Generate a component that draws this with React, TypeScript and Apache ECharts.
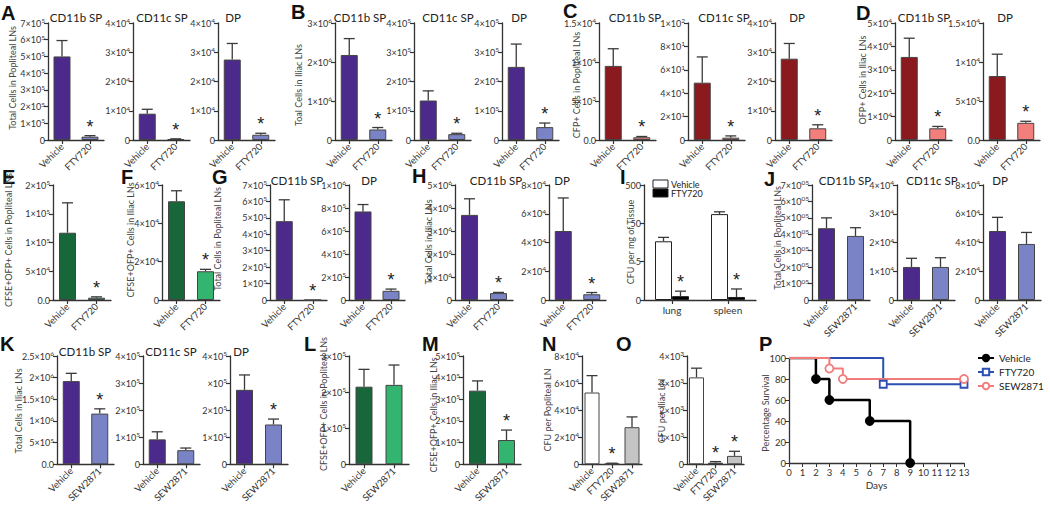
import React, { useEffect, useRef } from 'react';
import * as echarts from 'echarts';

// ---------- categories ----------
const CATS_FTY = ['Vehicle', 'FTY720'];
const CATS_SEW = ['Vehicle', 'SEW2871'];
const CATS_I = ['lung', 'spleen'];
const CATS_CFU = ['Vehicle', 'FTY720', 'SEW2871'];

// ---------- values (mean) and error-bar tops ----------
const A1_MEAN = [5.0e5, 2.0e4]; const A1_ERR = [5.95e5, 2.6e4];
const A2_MEAN = [9.0e3, 3.0e2]; const A2_ERR = [1.05e4, 4.0e2];
const A3_MEAN = [2.75e4, 1.8e3]; const A3_ERR = [3.3e4, 2.3e3];
const B1_MEAN = [2.18e6, 2.7e5]; const B1_ERR = [2.6e6, 3.2e5];
const B2_MEAN = [1.35e5, 2.0e4]; const B2_ERR = [1.68e5, 2.3e4];
const B3_MEAN = [2.5e5, 4.4e4]; const B3_ERR = [3.28e5, 5.8e4];
const C1_MEAN = [9.5e3, 3.5e2]; const C1_ERR = [1.17e4, 4.5e2];
const C2_MEAN = [49, 2]; const C2_ERR = [71, 3.5];
const C3_MEAN = [2.78e4, 4.0e3]; const C3_ERR = [3.3e4, 5.2e3];
const D1_MEAN = [3.55e4, 5.0e3]; const D1_ERR = [4.35e4, 5.8e3];
const D2_MEAN = [8.2e3, 2.2e3]; const D2_ERR = [1.1e4, 2.4e3];
const E_MEAN = [1.17e5, 4.0e3]; const E_ERR = [1.69e5, 5.5e3];
const F_MEAN = [5.15e4, 1.5e4]; const F_ERR = [5.7e4, 1.6e4];
const G1_MEAN = [4.8e5, 0]; const G1_ERR = [6.1e5, -1];
const G2_MEAN = [7.7e5, 8.0e4]; const G2_ERR = [8.3e5, 9.5e4];
const H1_MEAN = [3.7e6, 3.0e5]; const H1_ERR = [4.4e6, 3.3e5];
const H2_MEAN = [4.8e4, 4.0e3]; const H2_ERR = [7.1e4, 5.2e3];
const I_VEH_MEAN = [17, 87]; const I_VEH_ERR = [21.5, 100];
const I_FTY_MEAN = [0.63, 0.6]; const I_FTY_ERR = [0.85, 0.97];
const J1_MEAN = [4.37e5, 3.9e5]; const J1_ERR = [5.0e5, 4.4e5];
const J2_MEAN = [1.15e4, 1.15e4]; const J2_ERR = [1.45e4, 1.47e4];
const J3_MEAN = [4.8e4, 3.9e4]; const J3_ERR = [5.75e4, 4.7e4];
const K1_MEAN = [1.92e6, 1.17e6]; const K1_ERR = [2.1e6, 1.28e6];
const K2_MEAN = [9.2e4, 5.2e4]; const K2_ERR = [1.2e5, 6.0e4];
const K3_MEAN = [2.75e5, 1.47e5]; const K3_ERR = [3.3e5, 1.67e5];
const L_MEAN = [2.15e5, 2.2e5]; const L_ERR = [2.63e5, 2.75e5];
const M_MEAN = [3.4e5, 1.12e5]; const M_ERR = [3.85e5, 1.58e5];
const N_MEAN = [5.3e4, 5.0e2, 2.74e4]; const N_ERR = [6.55e4, 8.0e2, 3.5e4];
const O_MEAN = [3.21e3, 60, 3.1e2]; const O_ERR = [3.55e3, 100, 4.8e2];

// significance stars (1 = asterisk)
const STAR_SECOND = [0, 1];
const STAR_NONE = [0, 0];
const STAR_N = [0, 1, 0];
const STAR_O = [0, 1, 1];
const STAR_I_FTY = [1, 1];

// survival (panel P)
const DAYS_VEH = [0, 2, 3, 6, 9]; const SURV_VEH = [100, 80, 60, 40, 0];
const DAYS_FTY = [0, 7, 13]; const SURV_FTY = [100, 75, 75];
const DAYS_SEW = [0, 3, 4, 13]; const SURV_SEW = [100, 90, 80, 80];
const SURV_NAMES = ['Vehicle', 'FTY720', 'SEW2871'];

// ---------- tick labels (^ marks the exponent) ----------
const T_7E5 = ['0', '1×10^5', '2×10^5', '3×10^5', '4×10^5', '5×10^5', '6×10^5', '7×10^5'];
const T_4E4 = ['0', '1×10^4', '2×10^4', '3×10^4', '4×10^4'];
const T_3E6 = ['0', '1×10^6', '2×10^6', '3×10^6'];
const T_4E5 = ['0', '1×10^5', '2×10^5', '3×10^5', '4×10^5'];
const T_15E4 = ['0.0', '5×10^3', '1×10^4', '1.5×10^4'];
const T_1E2 = ['0', '2×10^1', '4×10^1', '6×10^1', '8×10^1', '1×10^2'];
const T_5E4 = ['0', '1×10^4', '2×10^4', '3×10^4', '4×10^4', '5×10^4'];
const T_E = ['0.0', '5×10^4', '1×10^5', '1×10^5', '2×10^5'];
const T_6E4 = ['0', '2×10^4', '4×10^4', '6×10^4'];
const T_1E6 = ['0', '2×10^5', '4×10^5', '6×10^5', '8×10^5', '1×10^6'];
const T_5E6 = ['0', '1×10^6', '2×10^6', '3×10^6', '4×10^6', '5×10^6'];
const T_8E4 = ['0', '2×10^4', '4×10^4', '6×10^4', '8×10^4'];
const T_I = ['0', '5', '50', '500'];
const T_J1 = ['0', '1×10^05', '2×10^05', '3×10^05', '4×10^05', '5×10^05', '6×10^05', '7×10^05'];
const T_K1 = ['0.0', '5×10^5', '1×10^6', '1.5×10^6', '2×10^6', '2.5×10^6'];
const T_K3 = ['0', '1×10^5', '2×10^5', '×10^5', '4×10^5'];
const T_3E5 = ['0', '1×10^5', '2×10^5', '3×10^5'];
const T_5E5 = ['0', '1×10^5', '2×10^5', '3×10^5', '4×10^5', '5×10^5'];
const T_4E3 = ['0', '1×10^3', '2×10^3', '3×10^3', '4×10^3'];
const T_SURV_X = ['0', '1', '2', '3', '4', '5', '6', '7', '8', '9', '10', '11', '12', '13'];
const T_SURV_Y = ['0', '20', '40', '60', '80', '100'];

// ---------- styles ----------
const PURPLE = ['#4b2a8c', '#7a83c6'];
const RED = ['#8b1a1f', '#f27f7b'];
const GREEN = ['#18673a', '#34b56f'];
const CFU_COL = ['#ffffff', '#000000', '#c4c4c4'];
const AX = '#333333';
const FONT = "Lato, 'Open Sans', 'DejaVu Sans', sans-serif";
const LFONT = "'Liberation Sans', Arial, sans-serif";

type Sub = {
  left: number; top: number; width: number; height: number;
  cats: string[]; mean: number[]; err: number[]; stars: number[];
  colors: string[]; ticks: string[]; interval: number; bw?: number;
};

const R1 = 23, H1 = 117, R2 = 185, H2 = 115, R3 = 356, H3 = 116;

const SUBS: Sub[] = [
  { left: 48, top: R1, width: 56, height: H1, cats: CATS_FTY, mean: A1_MEAN, err: A1_ERR, stars: STAR_SECOND, colors: PURPLE, ticks: T_7E5, interval: 1e5 },
  { left: 133, top: R1, width: 57, height: H1, cats: CATS_FTY, mean: A2_MEAN, err: A2_ERR, stars: STAR_SECOND, colors: PURPLE, ticks: T_4E4, interval: 1e4 },
  { left: 218, top: R1, width: 57, height: H1, cats: CATS_FTY, mean: A3_MEAN, err: A3_ERR, stars: STAR_SECOND, colors: PURPLE, ticks: T_4E4, interval: 1e4 },
  { left: 335, top: R1, width: 57, height: H1, cats: CATS_FTY, mean: B1_MEAN, err: B1_ERR, stars: STAR_SECOND, colors: PURPLE, ticks: T_3E6, interval: 1e6 },
  { left: 414, top: R1, width: 57, height: H1, cats: CATS_FTY, mean: B2_MEAN, err: B2_ERR, stars: STAR_SECOND, colors: PURPLE, ticks: T_4E5, interval: 1e5 },
  { left: 502, top: R1, width: 57, height: H1, cats: CATS_FTY, mean: B3_MEAN, err: B3_ERR, stars: STAR_SECOND, colors: PURPLE, ticks: T_4E5, interval: 1e5 },
  { left: 599, top: R1, width: 57, height: H1, cats: CATS_FTY, mean: C1_MEAN, err: C1_ERR, stars: STAR_SECOND, colors: RED, ticks: T_15E4, interval: 5e3 },
  { left: 688, top: R1, width: 57, height: H1, cats: CATS_FTY, mean: C2_MEAN, err: C2_ERR, stars: STAR_SECOND, colors: RED, ticks: T_1E2, interval: 20 },
  { left: 775, top: R1, width: 57, height: H1, cats: CATS_FTY, mean: C3_MEAN, err: C3_ERR, stars: STAR_SECOND, colors: RED, ticks: T_4E4, interval: 1e4 },
  { left: 895, top: R1, width: 57, height: H1, cats: CATS_FTY, mean: D1_MEAN, err: D1_ERR, stars: STAR_SECOND, colors: RED, ticks: T_5E4, interval: 1e4 },
  { left: 983, top: R1, width: 57, height: H1, cats: CATS_FTY, mean: D2_MEAN, err: D2_ERR, stars: STAR_SECOND, colors: RED, ticks: T_15E4, interval: 5e3 },

  { left: 53, top: R2, width: 58, height: H2, cats: CATS_FTY, mean: E_MEAN, err: E_ERR, stars: STAR_SECOND, colors: GREEN, ticks: T_E, interval: 5e4 },
  { left: 162, top: R2, width: 58, height: H2, cats: CATS_FTY, mean: F_MEAN, err: F_ERR, stars: STAR_SECOND, colors: GREEN, ticks: T_6E4, interval: 2e4 },
  { left: 270, top: R2, width: 57, height: H2, cats: CATS_FTY, mean: G1_MEAN, err: G1_ERR, stars: STAR_SECOND, colors: PURPLE, ticks: T_7E5, interval: 1e5 },
  { left: 349, top: R2, width: 56, height: H2, cats: CATS_FTY, mean: G2_MEAN, err: G2_ERR, stars: STAR_SECOND, colors: PURPLE, ticks: T_1E6, interval: 2e5 },
  { left: 455, top: R2, width: 58, height: H2, cats: CATS_FTY, mean: H1_MEAN, err: H1_ERR, stars: STAR_SECOND, colors: PURPLE, ticks: T_5E6, interval: 1e6 },
  { left: 549, top: R2, width: 57, height: H2, cats: CATS_FTY, mean: H2_MEAN, err: H2_ERR, stars: STAR_SECOND, colors: PURPLE, ticks: T_8E4, interval: 2e4 },
  { left: 812, top: R2, width: 58, height: H2, cats: CATS_SEW, mean: J1_MEAN, err: J1_ERR, stars: STAR_NONE, colors: PURPLE, ticks: T_J1, interval: 1e5 },
  { left: 897, top: R2, width: 58, height: H2, cats: CATS_SEW, mean: J2_MEAN, err: J2_ERR, stars: STAR_NONE, colors: PURPLE, ticks: T_4E4, interval: 1e4 },
  { left: 983, top: R2, width: 58, height: H2, cats: CATS_SEW, mean: J3_MEAN, err: J3_ERR, stars: STAR_NONE, colors: PURPLE, ticks: T_8E4, interval: 2e4 },

  { left: 57, top: R3, width: 57, height: H3, cats: CATS_SEW, mean: K1_MEAN, err: K1_ERR, stars: STAR_SECOND, colors: PURPLE, ticks: T_K1, interval: 5e5 },
  { left: 143, top: R3, width: 57, height: H3, cats: CATS_SEW, mean: K2_MEAN, err: K2_ERR, stars: STAR_NONE, colors: PURPLE, ticks: T_4E5, interval: 1e5 },
  { left: 230, top: R3, width: 58, height: H3, cats: CATS_SEW, mean: K3_MEAN, err: K3_ERR, stars: STAR_SECOND, colors: PURPLE, ticks: T_K3, interval: 1e5 },
  { left: 349, top: R3, width: 60, height: H3, cats: CATS_SEW, mean: L_MEAN, err: L_ERR, stars: STAR_NONE, colors: GREEN, ticks: T_3E5, interval: 1e5 },
  { left: 463, top: R3, width: 58, height: H3, cats: CATS_SEW, mean: M_MEAN, err: M_ERR, stars: STAR_SECOND, colors: GREEN, ticks: T_5E5, interval: 1e5 },
  { left: 582, top: R3, width: 60, height: H3, cats: CATS_CFU, mean: N_MEAN, err: N_ERR, stars: STAR_N, colors: CFU_COL, ticks: T_8E4, interval: 2e4, bw: 15 },
  { left: 687, top: R3, width: 57, height: H3, cats: CATS_CFU, mean: O_MEAN, err: O_ERR, stars: STAR_O, colors: CFU_COL, ticks: T_4E3, interval: 1e3, bw: 15 },
];

const I_GRID = { left: 644, top: R2, width: 112, height: H2 };
const P_GRID = { left: 789, top: 358, width: 175, height: 105 };

const logI = (v: number) => Math.log10(v / 0.5);

// panel letters: text, left x, glyph centre y
const LETTERS: [string, number, number][] = [
  ['A', 1, 12.5], ['B', 291, 12], ['C', 563, 11], ['D', 856, 12.5],
  ['E', 2, 176.5], ['F', 121, 176.5], ['G', 212, 177], ['H', 412, 176], ['I', 620, 176.5], ['J', 764, 179],
  ['K', 0, 344], ['L', 304, 344], ['M', 422, 343.5], ['N', 542, 344], ['O', 616, 344], ['P', 759, 344],
];

const TITLES: [string, number, number][] = [
  ['CD11b SP', 76, 17], ['CD11c SP', 162, 17], ['DP', 233, 17],
  ['CD11b SP', 360, 17], ['CD11c SP', 448, 17], ['DP', 519, 17],
  ['CD11b SP', 635, 17], ['CD11c SP', 724, 17], ['DP', 797, 17],
  ['CD11b SP', 924, 17], ['DP', 1005, 17],
  ['CD11b SP', 297, 180], ['DP', 369, 180], ['CD11b SP', 496, 180], ['DP', 562, 180],
  ['CD11b SP', 845, 180], ['CD11c SP', 932, 180], ['DP', 1000, 180],
  ['CD11b SP', 85, 351], ['CD11c SP', 171, 351], ['DP', 241, 351],
];

const YTITLES: [string, number, number][] = [
  ['Total Cells in Popliteal LNs', 12, 78],
  ['Toal Cells in Iliac LNs', 298, 85],
  ['CFP+ Cells in Popliteal LNs', 576, 85],
  ['OFP+ Cells in Iliac LNs', 862, 80],
  ['CFSE+OFP+ Cells in Popliteal LNs', 8, 240],
  ['CFSE+OFP+ Cells in Iliac LNs', 130, 240],
  ['Total Cells in Popliteal LNs', 217, 239],
  ['Total Cells in Iliac LNs', 428, 242],
  ['CFU per mg of Tissue', 630, 242],
  ['Total Cells in Popliteal LNs', 777, 238],
  ['Total Cells in Iliac LNs', 18, 411],
  ['CFSE+OFP+ Cells in Popliteal LNs', 323, 404],
  ['CFSE+OFP+ Cells in Iliac LNs', 433, 415],
  ['CFU per Popliteal LN', 547, 410],
  ['CFU per Iliac LN', 661, 411],
  ['Percentage Survival', 765, 413],
];

const RICH = {
  b: { fontSize: 9, fontFamily: FONT, color: '#333', lineHeight: 12 },
  s: { fontSize: 6.5, fontFamily: FONT, color: '#333', verticalAlign: 'top', lineHeight: 7 },
};
const richTick = (s: string | undefined) => {
  if (s === undefined) return '';
  const [b, e] = s.split('^');
  return e !== undefined ? `{b|${b}}{s|${e}}` : `{b|${b}}`;
};

function errSeries(idx: number, mean: number[], err: number[], stars: number[], offset: number) {
  return {
    type: 'custom',
    xAxisIndex: idx, yAxisIndex: idx,
    z: 5,
    silent: true,
    data: mean.map((m, i) => [i, m, err[i], stars[i]]),
    renderItem: (_p: any, api: any) => {
      const x = api.value(0), m = api.value(1), e = api.value(2), s = api.value(3);
      const base = api.coord([x, m]);
      const cx = base[0] + offset;
      const children: any[] = [];
      let topY = base[1];
      if (e > m) {
        const t = api.coord([x, e]);
        topY = t[1];
        children.push({ type: 'line', shape: { x1: cx, y1: base[1], x2: cx, y2: t[1] }, style: { stroke: '#3a3a3a', lineWidth: 1.3 } });
        children.push({ type: 'line', shape: { x1: cx - 5.5, y1: t[1], x2: cx + 5.5, y2: t[1] }, style: { stroke: '#3a3a3a', lineWidth: 1.3 } });
      }
      if (s) {
        children.push({ type: 'text', x: cx, y: topY - 18, style: { text: '*', textAlign: 'center', textVerticalAlign: 'top', fontSize: 18, fontFamily: LFONT, fill: '#222' } });
      }
      return { type: 'group', children };
    },
  };
}

function catAxis(idx: number, cats: string[], rotate: number, fs: number) {
  return {
    type: 'category', gridIndex: idx, data: cats, boundaryGap: true,
    axisLine: { show: true, lineStyle: { color: AX, width: 1.3 } },
    axisTick: { show: true, alignWithLabel: true, length: 4, lineStyle: { color: AX, width: 1.2 } },
    axisLabel: { rotate, fontSize: fs, margin: 5, color: '#333', fontFamily: FONT, interval: 0 },
    splitLine: { show: false },
  };
}

function valAxis(idx: number, ticks: string[], interval: number) {
  return {
    type: 'value', gridIndex: idx, min: 0, max: interval * (ticks.length - 1), interval,
    axisLine: { show: true, lineStyle: { color: AX, width: 1.3 } },
    axisTick: { show: true, length: 4, lineStyle: { color: AX, width: 1.2 } },
    axisLabel: { margin: 3, formatter: (v: number) => richTick(ticks[Math.round(v / interval)]), rich: RICH },
    splitLine: { show: false },
  };
}

function buildOption() {
  const grids: any[] = [];
  const xAxes: any[] = [];
  const yAxes: any[] = [];
  const series: any[] = [];

  SUBS.forEach((s, i) => {
    grids.push({ left: s.left, top: s.top, width: s.width, height: s.height });
    xAxes.push(catAxis(i, s.cats, 45, 9.5));
    yAxes.push(valAxis(i, s.ticks, s.interval));
    series.push({
      type: 'bar', name: 'sub' + i, xAxisIndex: i, yAxisIndex: i, barWidth: s.bw ?? 17,
      data: s.mean.map((v, j) => ({ value: v, itemStyle: { color: s.colors[j], borderColor: '#444', borderWidth: 1 } })),
    });
    series.push(errSeries(i, s.mean, s.err, s.stars, 0));
  });

  // Panel I (log-like axis)
  const iIdx = grids.length;
  grids.push(I_GRID);
  xAxes.push(catAxis(iIdx, CATS_I, 0, 10));
  yAxes.push(valAxis(iIdx, T_I, 1));
  series.push({
    type: 'bar', name: 'I-veh', xAxisIndex: iIdx, yAxisIndex: iIdx, barWidth: 17, barGap: '0%',
    itemStyle: { color: '#ffffff', borderColor: '#222', borderWidth: 1 },
    data: I_VEH_MEAN.map(logI),
  });
  series.push({
    type: 'bar', name: 'I-fty', xAxisIndex: iIdx, yAxisIndex: iIdx, barWidth: 17, barGap: '0%',
    itemStyle: { color: '#000000', borderColor: '#222', borderWidth: 1 },
    data: I_FTY_MEAN.map(logI),
  });
  series.push(errSeries(iIdx, I_VEH_MEAN.map(logI), I_VEH_ERR.map(logI), STAR_NONE, -8.5));
  series.push(errSeries(iIdx, I_FTY_MEAN.map(logI), I_FTY_ERR.map(logI), STAR_I_FTY, 8.5));

  // Panel P survival
  const pIdx = grids.length;
  grids.push(P_GRID);
  xAxes.push({
    type: 'value', gridIndex: pIdx, min: 0, max: 13, interval: 1,
    name: 'Days', nameLocation: 'middle', nameGap: 17,
    nameTextStyle: { fontSize: 10, color: '#333', fontFamily: FONT },
    axisLine: { show: true, lineStyle: { color: AX, width: 1.3 } },
    axisTick: { show: true, length: 4, lineStyle: { color: AX } },
    axisLabel: { fontSize: 9.5, margin: 4, color: '#333', fontFamily: FONT, formatter: (v: number) => T_SURV_X[Math.round(v)] ?? '' },
    splitLine: { show: false },
  });
  yAxes.push({
    type: 'value', gridIndex: pIdx, min: 0, max: 100, interval: 20,
    axisLine: { show: true, lineStyle: { color: AX, width: 1.3 } },
    axisTick: { show: true, length: 4, lineStyle: { color: AX } },
    axisLabel: { fontSize: 9.5, margin: 3, color: '#333', fontFamily: FONT, formatter: (v: number) => T_SURV_Y[Math.round(v / 20)] ?? '' },
    splitLine: { show: false },
  });
  const survLine = (name: string, days: number[], vals: number[], color: string, width: number, symbol: string, size: number, fill: string) => ({
    type: 'line', name, xAxisIndex: pIdx, yAxisIndex: pIdx, step: 'end',
    lineStyle: { color, width }, itemStyle: { color: fill, borderColor: color, borderWidth: 1.8 },
    symbol, symbolSize: size, showAllSymbol: true,
    data: days.map((d, i) => (i === 0 ? { value: [d, vals[i]], symbol: 'none' } : { value: [d, vals[i]] })),
  });
  series.push(survLine(SURV_NAMES[0], DAYS_VEH, SURV_VEH, '#000000', 2.5, 'circle', 8, '#000000'));
  series.push(survLine(SURV_NAMES[1], DAYS_FTY, SURV_FTY, '#2b4fb3', 2, 'rect', 7, '#ffffff'));
  series.push(survLine(SURV_NAMES[2], DAYS_SEW, SURV_SEW, '#f27c7c', 2, 'circle', 8, '#ffffff'));

  const graphic: any[] = [];
  LETTERS.forEach(([t, x, y]) => graphic.push({ type: 'text', x, y, style: { text: t, fontSize: 20, lineHeight: 16, fontWeight: 'bold', fontFamily: LFONT, fill: '#111', textVerticalAlign: 'middle' } }));
  TITLES.forEach(([t, x, y]) => graphic.push({ type: 'text', x, y, style: { text: t, fontSize: 11.5, fontFamily: FONT, fill: '#222', textAlign: 'center', textVerticalAlign: 'middle' } }));
  YTITLES.forEach(([t, x, y]) => graphic.push({ type: 'text', x, y, rotation: Math.PI / 2, style: { text: t, fontSize: 9, fontFamily: FONT, fill: '#444', textAlign: 'center', textVerticalAlign: 'middle' } }));
  // Panel I legend
  graphic.push({ type: 'rect', shape: { x: 653, y: 180, width: 15, height: 8 }, style: { fill: '#fff', stroke: '#222', lineWidth: 1 } });
  graphic.push({ type: 'rect', shape: { x: 653, y: 189, width: 15, height: 8 }, style: { fill: '#000', stroke: '#222', lineWidth: 1 } });
  graphic.push({ type: 'text', x: 671, y: 184, style: { text: 'Vehicle', fontSize: 9, fontFamily: FONT, fill: '#222', textVerticalAlign: 'middle' } });
  graphic.push({ type: 'text', x: 671, y: 193.5, style: { text: 'FTY720', fontSize: 9, fontFamily: FONT, fill: '#222', textVerticalAlign: 'middle' } });

  return {
    animation: false,
    backgroundColor: '#ffffff',
    grid: grids,
    xAxis: xAxes,
    yAxis: yAxes,
    series,
    legend: {
      data: SURV_NAMES, orient: 'vertical', left: 972, top: 348, itemWidth: 16, itemHeight: 8, itemGap: 4,
      textStyle: { fontSize: 10, color: '#222', fontFamily: FONT },
    },
    graphic,
  };
}

export default function App() {
  const ref = useRef<HTMLDivElement>(null);
  useEffect(() => {
    if (!ref.current) return;
    const chart = echarts.init(ref.current, null, { renderer: 'svg' });
    chart.setOption(buildOption() as any);
    return () => chart.dispose();
  }, []);
  return <div ref={ref} style={{ position: 'absolute', left: 0, top: 0, width: 1050, height: 505, background: '#fff' }} />;
}
